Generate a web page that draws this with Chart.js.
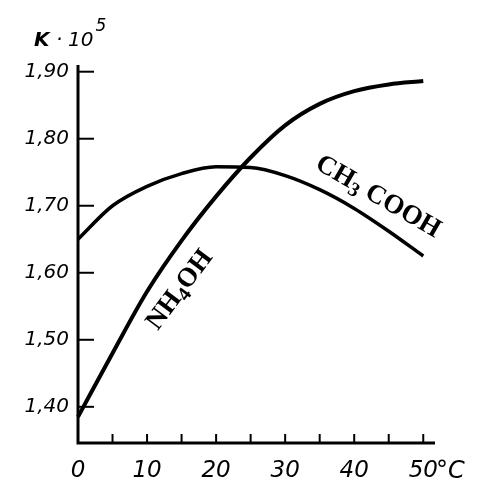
<!DOCTYPE html>
<html>
<head>
<meta charset="utf-8">
<script src="https://cdn.jsdelivr.net/npm/chart.js@4.4.1/dist/chart.umd.min.js"></script>
<style>
  html, body { margin: 0; padding: 0; background: #fff; }
  #chart { display: block; }
</style>
</head>
<body>
<canvas id="chart" width="477" height="484"></canvas>
<script>
// temperature, °C
let temps = [0, 5, 10, 15, 20, 25, 30, 35, 40, 45, 50];
// dissociation constant K·10^5
let nh4oh = [1.385, 1.480, 1.572, 1.648, 1.714, 1.772, 1.820, 1.852, 1.871, 1.881, 1.886];
let ch3cooh = [1.650, 1.700, 1.729, 1.748, 1.758, 1.757, 1.745, 1.724, 1.696, 1.662, 1.625];
let yTicks = [1.40, 1.50, 1.60, 1.70, 1.80, 1.90];
let xTicks = [0, 5, 10, 15, 20, 25, 30, 35, 40, 45, 50];
let xLabels = [0, 10, 20, 30, 40, 50];

let ink = '#000';

let extras = {
    id: 'extras',
    afterDraw(chart) {
        let ctx = chart.ctx;
        let xs = chart.scales.x, ys = chart.scales.y;
        let area = chart.chartArea;
        ctx.save();
        ctx.strokeStyle = ink;
        ctx.fillStyle = ink;

        // axes
        ctx.lineWidth = 3;
        ctx.beginPath();
        ctx.moveTo(area.left, area.top);
        ctx.lineTo(area.left, area.bottom);
        ctx.lineTo(area.right, area.bottom);
        ctx.stroke();

        // inward ticks
        ctx.lineWidth = 2;
        yTicks.forEach(v => {
            let y = ys.getPixelForValue(v);
            ctx.beginPath();
            ctx.moveTo(area.left, y);
            ctx.lineTo(area.left + 16, y);
            ctx.stroke();
        });
        xTicks.forEach(v => {
            if (v === 0) return;
            let x = xs.getPixelForValue(v);
            ctx.beginPath();
            ctx.moveTo(x, area.bottom);
            ctx.lineTo(x, area.bottom - 9);
            ctx.stroke();
        });

        // unit after 50
        ctx.font = 'italic 24px "DejaVu Sans"';
        ctx.textAlign = 'left';
        ctx.textBaseline = 'middle';
        ctx.fillText('°C', 436, 472);

        // axis title K·10^5
        ctx.textBaseline = 'alphabetic';
        ctx.font = 'italic bold 20px "DejaVu Sans"';
        ctx.fillText('K', 34, 46);
        ctx.font = 'italic 20px "DejaVu Sans"';
        ctx.fillText('·', 56, 46);
        ctx.fillText('10', 68, 46);
        let w10 = ctx.measureText('10').width;
        ctx.font = 'italic 17px "DejaVu Sans"';
        ctx.fillText('5', 68 + w10 + 2, 31);

        // curve labels
        ctx.save();
        ctx.translate(180, 290);
        ctx.rotate(-53 * Math.PI / 180);
        drawSub(ctx, 'NH', '4', 'OH');
        ctx.restore();

        ctx.save();
        ctx.translate(378, 197);
        ctx.rotate(30 * Math.PI / 180);
        drawSub(ctx, 'CH', '3', ' COOH');
        ctx.restore();

        ctx.restore();
    }
};

function drawSub(ctx, a, sub, b) {
    let big = 'bold 27px "Liberation Serif"';
    let small = 'bold 20px "Liberation Serif"';
    ctx.textBaseline = 'middle';
    ctx.font = big;
    let wa = ctx.measureText(a).width;
    let wb = ctx.measureText(b).width;
    ctx.font = small;
    let ws = ctx.measureText(sub).width;
    let x = -(wa + ws + wb) / 2;
    ctx.textAlign = 'left';
    ctx.font = big;
    ctx.fillText(a, x, 0);
    ctx.font = small;
    ctx.fillText(sub, x + wa, 7);
    ctx.font = big;
    ctx.fillText(b, x + wa + ws, 0);
}

let chart = new Chart(document.querySelector('#chart'), {
    type: 'line',
    data: {
        labels: temps,
        datasets: [{
            label: 'NH4OH',
            data: temps.map((t, i) => ({x: t, y: nh4oh[i]})),
            borderColor: ink,
            borderWidth: 4,
            pointRadius: 0,
            cubicInterpolationMode: 'monotone'
        }, {
            label: 'CH3COOH',
            data: temps.map((t, i) => ({x: t, y: ch3cooh[i]})),
            borderColor: ink,
            borderWidth: 3.5,
            pointRadius: 0,
            cubicInterpolationMode: 'monotone'
        }]
    },
    options: {
        responsive: false,
        animation: false,
        clip: false,
        layout: { padding: { left: 0, right: 42, top: 65, bottom: 0 } },
        plugins: { legend: { display: false }, tooltip: { enabled: false } },
        scales: {
            x: {
                type: 'linear',
                min: 0,
                max: 51.7,
                afterBuildTicks: s => { s.ticks = xLabels.map(v => ({value: v})); },
                afterFit: s => { s.height = 41; },
                grid: { display: false, drawTicks: false },
                border: { display: false },
                ticks: {
                    color: ink,
                    padding: 14,
                    maxRotation: 0,
                    autoSkip: false,
                    font: { family: 'DejaVu Sans', style: 'italic', size: 23 },
                    callback: v => String(v)
                }
            },
            y: {
                min: 1.346,
                max: 1.910,
                afterBuildTicks: s => { s.ticks = yTicks.map(v => ({value: v})); },
                afterFit: s => { s.width = 78; },
                grid: { display: false, drawTicks: false },
                border: { display: false },
                ticks: {
                    color: ink,
                    padding: 9,
                    autoSkip: false,
                    font: { family: 'DejaVu Sans', style: 'italic', size: 20 },
                    callback: v => v.toFixed(2).replace('.', ',')
                }
            }
        }
    },
    plugins: [extras]
});
</script>
</body>
</html>
